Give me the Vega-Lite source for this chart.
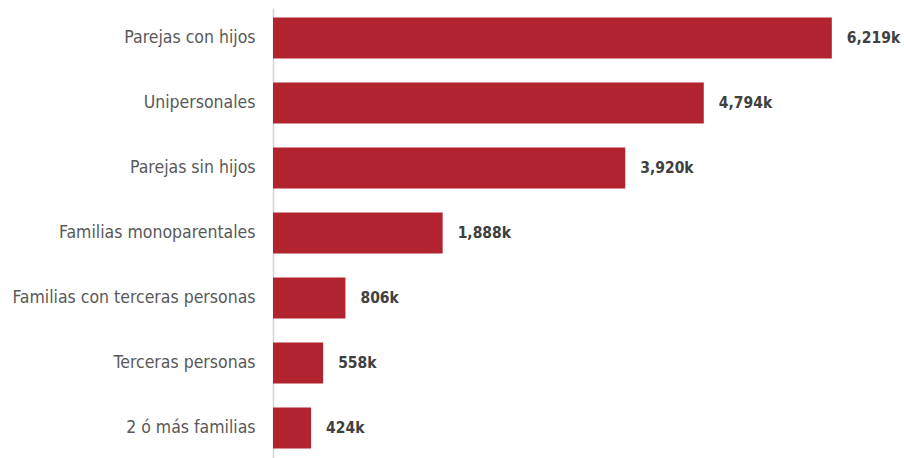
{
  "$schema": "https://vega.github.io/schema/vega-lite/v6.json",
  "autosize": {"type": "none"},
  "padding": {"left": 273, "top": 8, "right": 2, "bottom": 0},
  "width": 629,
  "height": 450,
  "background": "white",
  "data": {"values": [
    {"cat": "Parejas con hijos", "v": 6219, "lbl": "6,219k"},
    {"cat": "Unipersonales", "v": 4794, "lbl": "4,794k"},
    {"cat": "Parejas sin hijos", "v": 3920, "lbl": "3,920k"},
    {"cat": "Familias monoparentales", "v": 1888, "lbl": "1,888k"},
    {"cat": "Familias con terceras personas", "v": 806, "lbl": "806k"},
    {"cat": "Terceras personas", "v": 558, "lbl": "558k"},
    {"cat": "2 ó más familias", "v": 424, "lbl": "424k"}
  ]},
  "encoding": {
    "y": {"field": "cat", "type": "nominal", "sort": null,
      "scale": {"paddingInner": 0.37, "paddingOuter": 0.146},
      "axis": {"title": null, "ticks": false, "domain": true, "domainColor": "#d4d4d4", "domainWidth": 1.5,
        "labelFont": "DejaVu Sans Condensed", "labelFontSize": 17.5, "labelColor": "#595959", "labelPadding": 18, "labelLimit": 300}},
    "x": {"field": "v", "type": "quantitative", "scale": {"domain": [0, 7000]}, "axis": null}
  },
  "config": {"view": {"stroke": null}},
  "layer": [
    {"mark": {"type": "bar", "color": "#B0232F"}},
    {"mark": {"type": "text", "align": "left", "baseline": "middle", "dx": 15, "font": "DejaVu Sans Condensed", "fontSize": 15.5, "fontWeight": "bold", "color": "#404040"},
     "encoding": {"text": {"field": "lbl", "type": "nominal"}}}
  ]
}
